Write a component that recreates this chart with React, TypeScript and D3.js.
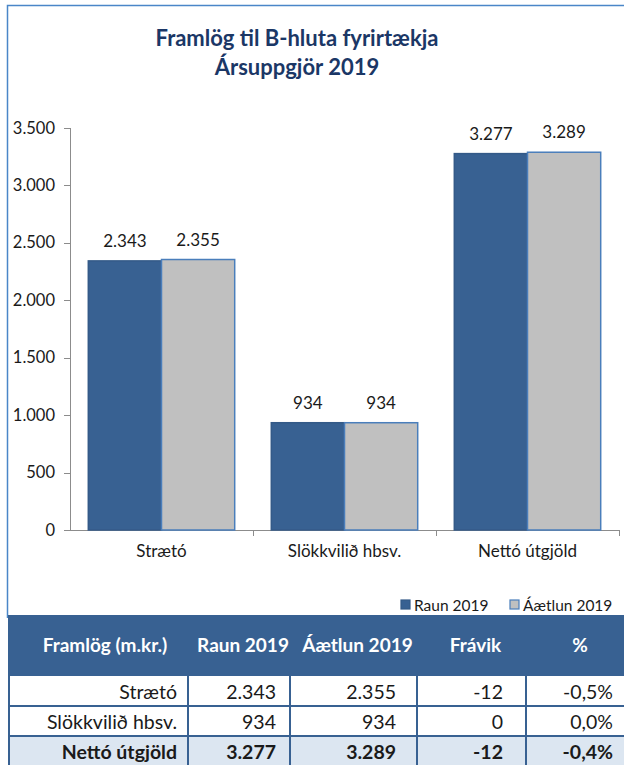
import React from "react";
import * as d3 from "d3";

const titleLines = ["Framlög til B-hluta fyrirtækja", "Ársuppgjör 2019"];
const categories = ["Strætó", "Slökkvilið hbsv.", "Nettó útgjöld"];
const seriesNames = ["Raun 2019", "Áætlun 2019"];
const raun2019 = [2343, 934, 3277];
const aaetlun2019 = [2355, 934, 3289];
const yTicks = [0, 500, 1000, 1500, 2000, 2500, 3000, 3500];
const tableHeaders = ["Framlög (m.kr.)", "Raun 2019", "Áætlun 2019", "Frávik", "%"];

const W = 624;
const H = 765;
const FONT = "Lato, 'Open Sans', sans-serif";
const BLUE = "#386192";
const GRAY = "#c0c0c0";
const NAVY = "#1b3766";
const TEXT = "#1a1a1a";

const isl = d3.formatLocale({ decimal: ",", thousands: ".", grouping: [3], currency: ["", ""], minus: "-" });
const fmtInt = isl.format(",.0f");
const fmtPct = isl.format(".1%");

export default function App() {
  const y = d3.scaleLinear().domain([0, 3500]).range([530, 128]);
  const x = d3.scaleBand<string>().domain(categories).range([70, 619]).paddingInner(0.2).paddingOuter(0.1);
  const xs = d3.scaleBand<string>().domain(seriesNames).range([0, x.bandwidth()]);
  const series = [raun2019, aaetlun2019];
  const fills = [BLUE, GRAY];
  const strokes = ["#345a88", "#4a7ebb"];
  const step = x.step();

  // table
  const colEdges = [8, 188, 290, 417, 526, 640];
  const padRight = [11, 14, 21, 23, 27];
  const headerTop = 615;
  const headerBottom = 676;
  const rowH = 30;
  const rows = categories.map((c, i) => {
    const dev = raun2019[i] - aaetlun2019[i];
    const pct = aaetlun2019[i] === 0 ? 0 : dev / aaetlun2019[i];
    return [c, fmtInt(raun2019[i]), fmtInt(aaetlun2019[i]), fmtInt(dev), fmtPct(pct)].map((s) =>
      s.replace(/\u2212/g, "-")
    );
  });

  return (
    <svg width={W} height={H} style={{ position: "absolute", left: 0, top: 0, background: "#fff" }} fontFamily={FONT}>
      <rect x={0} y={0} width={W} height={H} fill="#fff" />
      {/* frame */}
      <path d={`M7.5,618 V5.5 H${W}`} fill="none" stroke="#4a86c8" strokeWidth={1.5} />
      {/* title */}
      {titleLines.map((t, i) => (
        <text key={i} x={297} y={46 + i * 29} textAnchor="middle" fontSize={22} fontWeight="bold" fill={NAVY}>
          {t}
        </text>
      ))}
      {/* y axis */}
      <line x1={70.5} x2={70.5} y1={y(3500)} y2={y(0)} stroke="#8c8c8c" />
      {yTicks.map((t) => (
        <g key={t}>
          <line x1={64} x2={70.5} y1={Math.round(y(t)) + 0.5} y2={Math.round(y(t)) + 0.5} stroke="#8c8c8c" />
          <text x={55} y={y(t) + 5.5} textAnchor="end" fontSize={16.5} fill={TEXT}>
            {fmtInt(t)}
          </text>
        </g>
      ))}
      {/* x axis */}
      <line x1={70} x2={620} y1={Math.round(y(0)) + 0.5} y2={Math.round(y(0)) + 0.5} stroke="#8c8c8c" />
      {categories.map((c, i) => {
        const bx = (x(c) as number) - step * 0.1 + step;
        return (
          <line key={"t" + i} x1={Math.round(bx) + 0.5} x2={Math.round(bx) + 0.5} y1={y(0)} y2={y(0) + 6} stroke="#8c8c8c" />
        );
      })}
      {/* bars */}
      {categories.map((c, i) => (
        <g key={c}>
          {series.map((s, k) => {
            const bx = (x(c) as number) + (xs(seriesNames[k]) as number);
            return (
              <g key={k}>
                <rect
                  x={bx}
                  y={y(s[i])}
                  width={xs.bandwidth()}
                  height={y(0) - y(s[i])}
                  fill={fills[k]}
                  stroke={strokes[k]}
                  strokeWidth={1.5}
                />
                <text x={bx + xs.bandwidth() / 2} y={y(s[i]) - 14} textAnchor="middle" fontSize={17} fill={TEXT}>
                  {fmtInt(s[i])}
                </text>
              </g>
            );
          })}
          <text x={(x(c) as number) + x.bandwidth() / 2} y={557} textAnchor="middle" fontSize={17} fill={TEXT}>
            {c}
          </text>
        </g>
      ))}
      {/* legend */}
      {seriesNames.map((n, k) => {
        const lx = [401, 510][k];
        return (
          <g key={n}>
            <rect x={lx} y={600} width={9} height={9} fill={fills[k]} stroke={strokes[k]} strokeWidth={1.2} />
            <text x={lx + 13} y={610.5} fontSize={15.5} fill={TEXT}>
              {n}
            </text>
          </g>
        );
      })}
      {/* table header */}
      <rect x={colEdges[0]} y={headerTop} width={W - colEdges[0]} height={headerBottom - headerTop} fill={BLUE} />
      {tableHeaders.map((h, j) => (
        <text
          key={h}
          x={j === 4 ? 580 : (colEdges[j] + colEdges[j + 1]) / 2 + (j === 0 ? 7 : 4)}
          y={652}
          textAnchor="middle"
          fontSize={19}
          fontWeight="bold"
          fill="#fff"
        >
          {h}
        </text>
      ))}
      {/* table rows */}
      {rows.map((r, i) => {
        const top = headerBottom + i * rowH;
        const last = i === rows.length - 1;
        return (
          <g key={i}>
            <rect x={colEdges[0]} y={top} width={W - colEdges[0]} height={rowH} fill={last ? "#dce6f1" : "#fff"} />
            {r.map((v, j) => (
              <text
                key={j}
                x={colEdges[j + 1] - padRight[j]}
                y={top + 22.5}
                textAnchor="end"
                fontSize={19.5}
                fontWeight={last ? "bold" : "normal"}
                fill={TEXT}
              >
                {v}
              </text>
            ))}
          </g>
        );
      })}
      {/* table grid */}
      {rows.map((_, i) => (
        <line
          key={"h" + i}
          x1={colEdges[0]}
          x2={W}
          y1={headerBottom + (i + 1) * rowH}
          y2={headerBottom + (i + 1) * rowH}
          stroke={BLUE}
          strokeWidth={2}
        />
      ))}
      {colEdges.slice(0, 5).map((cx, j) => (
        <line key={"v" + j} x1={cx + (j === 0 ? 1 : 0)} x2={cx + (j === 0 ? 1 : 0)} y1={headerBottom} y2={H} stroke={BLUE} strokeWidth={2} />
      ))}
    </svg>
  );
}
